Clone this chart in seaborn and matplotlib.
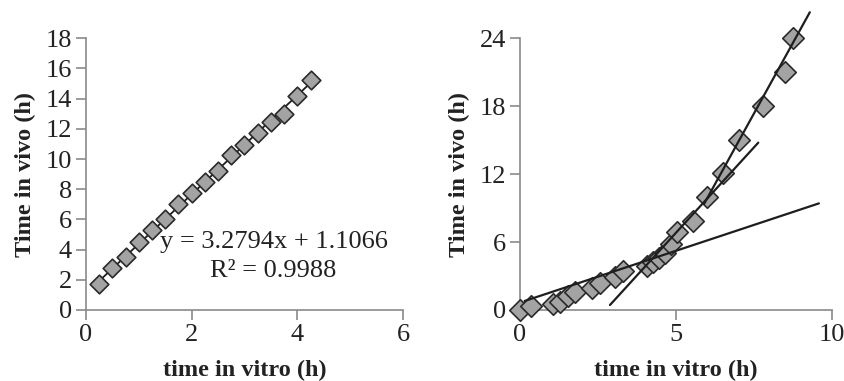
import numpy as np
import pandas as pd
import matplotlib
matplotlib.use("Agg")
import matplotlib.pyplot as plt
import seaborn as sns

# ---- data ----
left_x = [0.25, 0.5, 0.75, 1.0, 1.25, 1.5, 1.75, 2.0, 2.25, 2.5, 2.75, 3.0, 3.25, 3.5, 3.75, 4.0, 4.25]
left_y = [1.7, 2.75, 3.5, 4.5, 5.3, 6.0, 7.0, 7.75, 8.5, 9.2, 10.25, 10.95, 11.75, 12.45, 13.0, 14.2, 15.25]
left_slope = 3.2794
left_intercept = 1.1066
left_r2 = 0.9988

right_x = [0.0, 0.35, 1.05, 1.28, 1.53, 1.76, 2.29, 2.56, 3.04, 3.31, 4.06, 4.27, 4.45, 4.64, 4.82, 5.02,
           5.55, 6.0, 6.51, 7.02, 7.77, 8.5, 8.75]
right_y = [0.0, 0.35, 0.55, 0.75, 1.2, 1.6, 1.9, 2.4, 2.95, 3.45, 3.85, 4.2, 4.6, 5.0, 5.8, 6.9,
           7.9, 10.0, 12.1, 15.0, 18.0, 21.0, 24.0]

# trend segments of the right panel: (x_start, x_end, slope, intercept)
seg_x0 = [0.15, 2.88, 5.9]
seg_x1 = [9.57, 7.63, 9.28]
seg_slope = [0.915, 3.02, 5.0]
seg_icpt = [0.66, -8.26, -20.1]

left_xticks = [0, 2, 4, 6]
left_yticks = [0, 2, 4, 6, 8, 10, 12, 14, 16, 18]
right_xticks = [0, 5, 10]
right_yticks = [0, 6, 12, 18, 24]

xlabel = "time in vitro (h)"
ylabel = "Time in vivo (h)"

# ---- style ----
sns.set_theme(style="white")
plt.rcParams["font.family"] = ["Liberation Serif", "DejaVu Serif"]

spine_c = "#8a8a8a"
fill_c = "#a3a3a3"
edge_c = "#2a2a2a"
line_c = "#1e1e1e"
fs_tick = 19
fs_lab = 17.5

fig = plt.figure(figsize=(8.45, 3.81), dpi=100)
axL = fig.add_axes([86 / 845, 1 - 310 / 381, (403 - 86) / 845, (310 - 38.3) / 381])
axR = fig.add_axes([520 / 845, 1 - 310 / 381, (832.3 - 520) / 845, (310 - 38.3) / 381])

# left panel
dfL = pd.DataFrame({"x": left_x, "y": left_y})
lx = np.array([left_x[0], left_x[-1]])
axL.plot(lx, left_slope * lx + left_intercept, color=line_c, lw=1.3, zorder=2)
sns.scatterplot(data=dfL, x="x", y="y", ax=axL, marker="D", s=90, color=fill_c,
                edgecolor=edge_c, linewidth=1.2, zorder=3)
axL.text(3.55, 4.5, f"y = {left_slope}x + {left_intercept}", ha="center", va="center",
         fontsize=fs_tick, color="#222222")
axL.text(3.55, 2.6, f"R\u00b2 = {left_r2}", ha="center", va="center",
         fontsize=fs_tick, color="#222222")
axL.set_xlim(0, 6)
axL.set_ylim(0, 18)
axL.set_xticks(left_xticks)
axL.set_yticks(left_yticks)

# right panel
dfR = pd.DataFrame({"x": right_x, "y": right_y})
for x0, x1, m, b in zip(seg_x0, seg_x1, seg_slope, seg_icpt):
    xs = np.array([x0, x1])
    axR.plot(xs, m * xs + b, color=line_c, lw=1.6, zorder=4, clip_on=False)
sns.scatterplot(data=dfR, x="x", y="y", ax=axR, marker="D", s=120, color=fill_c,
                edgecolor=edge_c, linewidth=1.2, zorder=3, clip_on=False)
axR.set_xlim(0, 10)
axR.set_ylim(0, 24)
axR.set_xticks(right_xticks)
axR.set_yticks(right_yticks)

for ax in (axL, axR):
    for s in ("top", "right"):
        ax.spines[s].set_visible(False)
    for s in ("left", "bottom"):
        ax.spines[s].set_color(spine_c)
        ax.spines[s].set_linewidth(1.2)
    ax.tick_params(axis="both", direction="out", length=7, width=1.2, color=spine_c,
                   labelsize=fs_tick, labelcolor="#222222", pad=3,
                   left=True, bottom=True)
    ax.set_xlabel(xlabel, fontsize=fs_lab, fontweight="bold", color="#222222", labelpad=10)
    ax.set_ylabel(ylabel, fontsize=fs_lab, fontweight="bold", color="#222222", labelpad=7)
    ax.set_facecolor("none")

fig.savefig("out.png", dpi=100)
